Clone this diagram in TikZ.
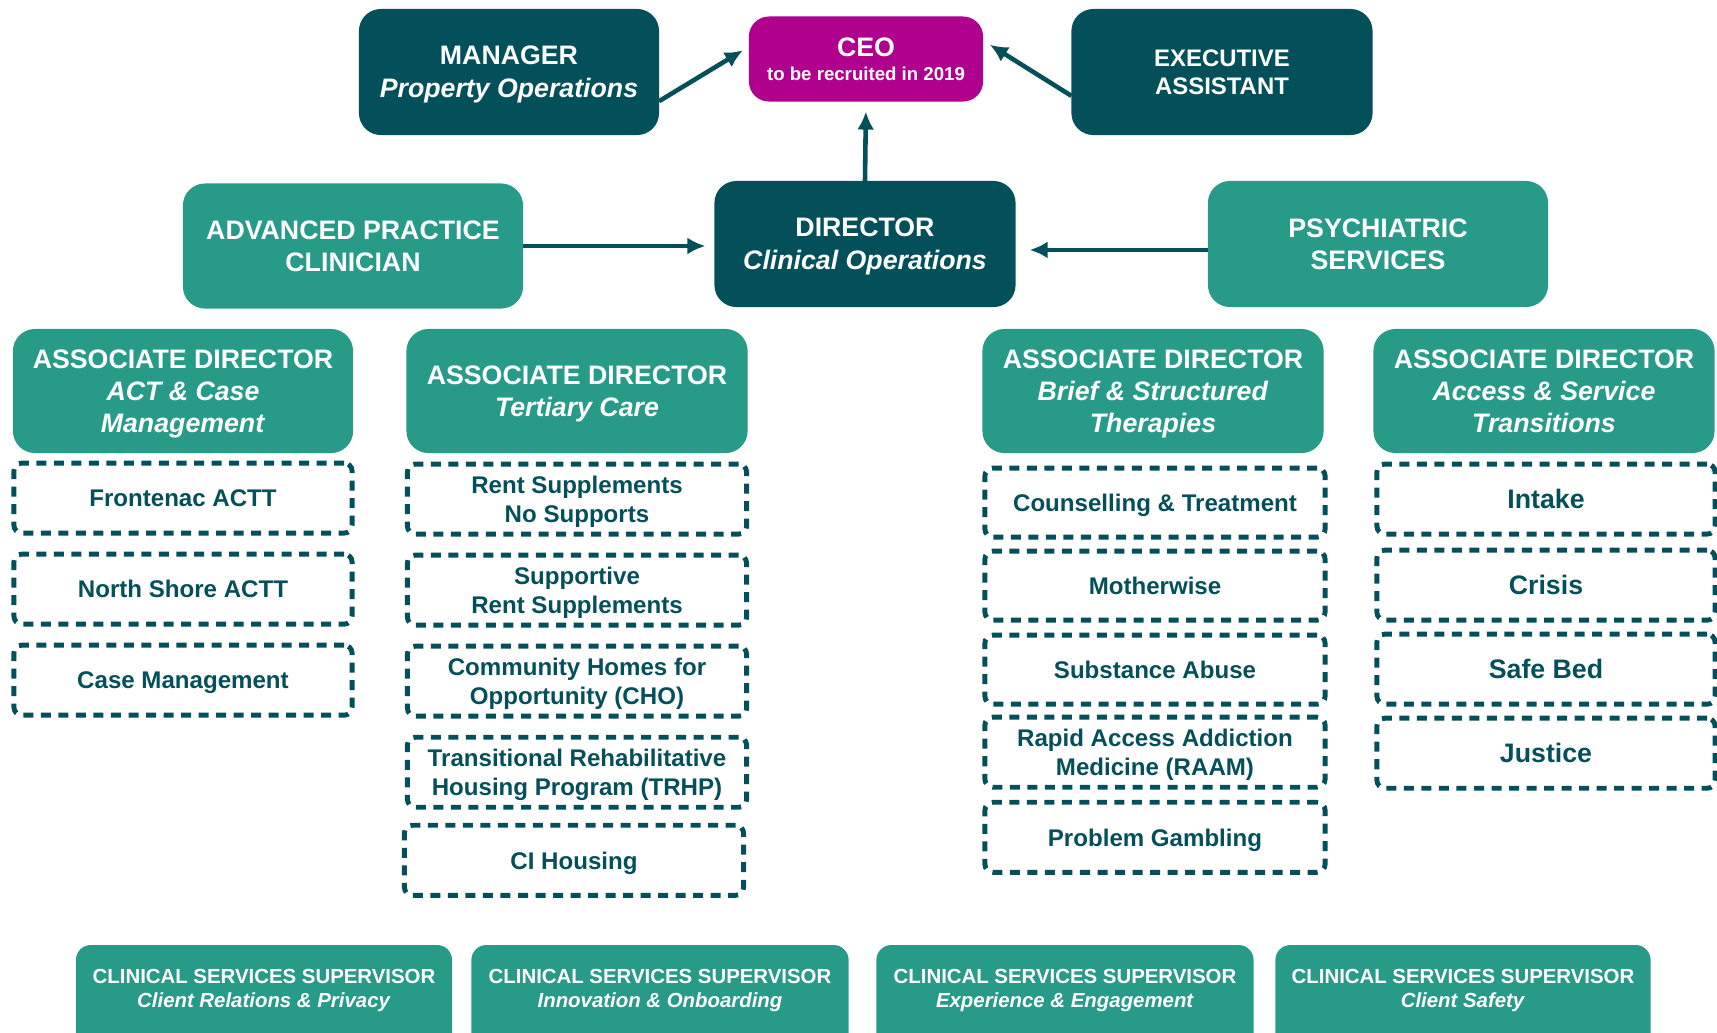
\documentclass[tikz,border=0pt]{standalone}
\usepackage{fontspec}
\setmainfont{Liberation Sans}
\usetikzlibrary{positioning,arrows.meta}
\definecolor{orgdark}{HTML}{03505A}
\definecolor{orgteal}{HTML}{289B88}
\definecolor{orgpink}{HTML}{B0008E}
\begin{document}
\begin{tikzpicture}[x=0.01cm,y=-0.01cm,
  every node/.style={inner sep=0pt,outer sep=0pt,align=center,text depth=0pt},
  darkbox/.style={fill=orgdark,text=white,rounded corners=0.22cm,minimum width=3cm,minimum height=1.26cm,font=\bfseries\fontsize{7.6}{9.3}\selectfont},
  headbox/.style={fill=orgteal,text=white,rounded corners=0.22cm,minimum width=3.4cm,minimum height=1.24cm,font=\bfseries\fontsize{7.6}{9.1}\selectfont},
  unitbox/.style={draw=orgdark,line width=1.4pt,dash pattern=on 0.1cm off 0.075cm,rounded corners=0.08cm,text=orgdark,minimum width=3.38cm,minimum height=0.7cm,font=\bfseries\fontsize{6.85}{8.4}\selectfont},
  supbox/.style={fill=orgteal,text=white,rounded corners=0.15cm,anchor=north,minimum width=3.76cm,inner ysep=0.24cm,text depth=1.5cm,font=\bfseries\fontsize{5.8}{6.9}\selectfont},
  link/.style={draw=orgdark,line width=1.3pt,-{Latex[length=0.18cm,width=0.17cm]}}]
\useasboundingbox (0,0) rectangle (1717,1032);
\clip (0,0) rectangle (1717,1032);
%
\node[darkbox] (mgr) at (509,72) {MANAGER\\\textit{Property Operations}};
\node[darkbox,fill=orgpink,minimum width=2.34cm,minimum height=0.85cm,rounded corners=0.2cm] (ceo) at (866,59) {CEO\\[-2.5pt]{\fontsize{5.3}{6}\selectfont to be recruited in 2019}};
\node[darkbox,minimum width=3.01cm,font=\bfseries\fontsize{6.8}{8.1}\selectfont] (ea) at (1222,72) {EXECUTIVE\\ASSISTANT};
%
\node[headbox,minimum height=1.25cm] (apc) at (353,246) {ADVANCED PRACTICE\\CLINICIAN};
\node[darkbox,minimum width=3.01cm] (dir) at (865,244) {DIRECTOR\\\textit{Clinical Operations}};
\node[headbox,minimum height=1.26cm] (psy) at (1378,244) {PSYCHIATRIC\\SERVICES};
%
\draw[link,shorten >=0.07cm] (mgr.-11) -- (ceo.174);
\draw[link,shorten >=0.08cm] (ea.189) -- (ceo.9);
\draw[link,shorten >=0.1cm] (dir.north) -- (ceo.south);
\draw[link,shorten >=0.09cm] (apc.east) -- (apc.east -| dir.west);
\draw[link,shorten >=0.14cm] (psy.182) -- (psy.182 -| dir.east);
%
\node[headbox] (adact) at (183,391) {ASSOCIATE DIRECTOR\\\textit{ACT \& Case}\\\textit{Management}};
\node[headbox,minimum width=3.41cm] (adtc) at (577,391) {ASSOCIATE DIRECTOR\\\textit{Tertiary Care}};
\node[headbox,minimum width=3.41cm] (adbst) at (1153,391) {ASSOCIATE DIRECTOR\\\textit{Brief \& Structured}\\\textit{Therapies}};
\node[headbox,minimum width=3.41cm] (adast) at (1544,391) {ASSOCIATE DIRECTOR\\\textit{Access \& Service}\\\textit{Transitions}};
%
\node[unitbox,below=0.1cm of adact] (frontenac) {Frontenac ACTT};
\node[unitbox,below=0.21cm of frontenac] (northshore) {North Shore ACTT};
\node[unitbox,below=0.21cm of northshore] (casemgmt) {Case Management};
%
\node[unitbox,minimum width=3.39cm,below=0.11cm of adtc] (rentsupp) {Rent Supplements\\No Supports};
\node[unitbox,minimum width=3.39cm,below=0.21cm of rentsupp] (suprent) {Supportive\\Rent Supplements};
\node[unitbox,minimum width=3.39cm,below=0.21cm of suprent] (cho) {Community Homes for\\Opportunity (CHO)};
\node[unitbox,minimum width=3.39cm,below=0.21cm of cho] (trhp) {Transitional Rehabilitative\\Housing Program (TRHP)};
\node[unitbox,minimum width=3.39cm,below=0.18cm of trhp,xshift=-0.03cm] (cihousing) {CI Housing};
%
\node[unitbox,minimum width=3.4cm,minimum height=0.69cm,below=0.15cm of adbst,xshift=0.02cm] (counsel) {Counselling \& Treatment};
\node[unitbox,minimum width=3.4cm,minimum height=0.69cm,below=0.14cm of counsel] (motherwise) {Motherwise};
\node[unitbox,minimum width=3.4cm,minimum height=0.69cm,below=0.15cm of motherwise] (substance) {Substance Abuse};
\node[unitbox,minimum width=3.4cm,minimum height=0.7cm,below=0.13cm of substance] (raam) {Rapid Access Addiction\\Medicine (RAAM)};
\node[unitbox,minimum width=3.4cm,minimum height=0.7cm,below=0.15cm of raam] (gambling) {Problem Gambling};
%
\node[unitbox,font=\bfseries\fontsize{7.6}{9}\selectfont,below=0.11cm of adast,xshift=0.02cm] (intake) {Intake};
\node[unitbox,font=\bfseries\fontsize{7.6}{9}\selectfont,below=0.16cm of intake] (crisis) {Crisis};
\node[unitbox,font=\bfseries\fontsize{7.6}{9}\selectfont,below=0.14cm of crisis] (safebed) {Safe Bed};
\node[unitbox,font=\bfseries\fontsize{7.6}{9}\selectfont,below=0.14cm of safebed] (justice) {Justice};
%
\node[supbox] (cssprivacy) at (264,945) {CLINICAL SERVICES SUPERVISOR\\\textit{Client Relations \& Privacy}};
\node[supbox,minimum width=3.77cm] (cssonboard) at (660,945) {CLINICAL SERVICES SUPERVISOR\\\textit{Innovation \& Onboarding}};
\node[supbox,minimum width=3.77cm] (cssengage) at (1065,945) {CLINICAL SERVICES SUPERVISOR\\\textit{Experience \& Engagement}};
\node[supbox,minimum width=3.75cm] (csssafety) at (1463,945) {CLINICAL SERVICES SUPERVISOR\\\textit{Client Safety}};
%
\end{tikzpicture}
\end{document}
